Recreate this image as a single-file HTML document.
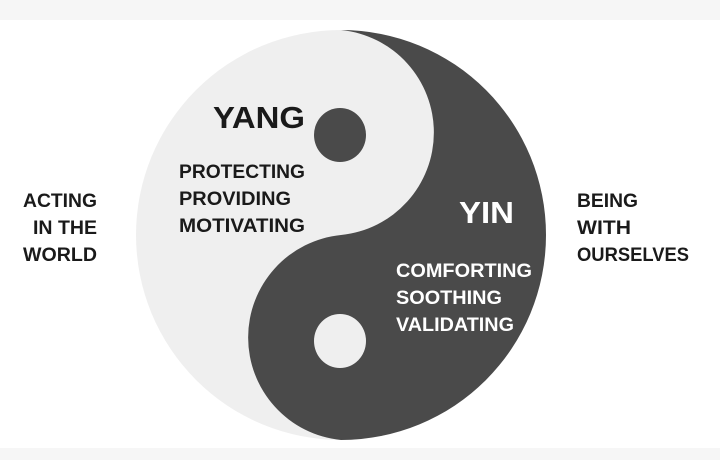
<!DOCTYPE html>
<html><head><meta charset="utf-8"><style>
html,body{margin:0;padding:0;background:#fff;}
svg{display:block;}
text{font-family:"Liberation Sans",sans-serif;}
</style></head><body>
<svg width="720" height="460" viewBox="0 0 720 460">
<rect x="0" y="0" width="720" height="460" fill="#fff"/>
<rect x="0" y="0" width="720" height="20" fill="#f6f6f6"/>
<rect x="0" y="448" width="720" height="12" fill="#f6f6f6"/>
<circle cx="341" cy="235" r="205" fill="#efefef"/>
<path d="M341 30 A205 205 0 0 1 341 440 A103 103 0 0 1 341 235 A103 103 0 0 0 341 30 Z" fill="#4a4a4a"/>
<ellipse cx="340" cy="135" rx="26" ry="27" fill="#4a4a4a"/>
<ellipse cx="340" cy="341" rx="26" ry="27" fill="#efefef"/>
<g font-weight="bold" fill="#1a1a1a">
<text x="213" y="128" font-size="31" textLength="92" lengthAdjust="spacingAndGlyphs">YANG</text>
<text x="179" y="178" font-size="19" textLength="126" lengthAdjust="spacingAndGlyphs">PROTECTING</text>
<text x="179" y="205" font-size="19" textLength="112" lengthAdjust="spacingAndGlyphs">PROVIDING</text>
<text x="179" y="232" font-size="19" textLength="126" lengthAdjust="spacingAndGlyphs">MOTIVATING</text>
<text x="23" y="207" font-size="19" textLength="74" lengthAdjust="spacingAndGlyphs">ACTING</text>
<text x="33" y="234" font-size="19" textLength="64" lengthAdjust="spacingAndGlyphs">IN THE</text>
<text x="23" y="261" font-size="19" textLength="74" lengthAdjust="spacingAndGlyphs">WORLD</text>
<text x="577" y="207" font-size="19" textLength="61" lengthAdjust="spacingAndGlyphs">BEING</text>
<text x="577" y="234" font-size="19" textLength="54" lengthAdjust="spacingAndGlyphs">WITH</text>
<text x="577" y="261" font-size="19" textLength="112" lengthAdjust="spacingAndGlyphs">OURSELVES</text>
</g>
<g fill="#fff" font-weight="bold">
<text x="459" y="223" font-size="31" textLength="55" lengthAdjust="spacingAndGlyphs">YIN</text>
<text x="396" y="277" font-size="19" textLength="136" lengthAdjust="spacingAndGlyphs">COMFORTING</text>
<text x="396" y="304" font-size="19" textLength="106" lengthAdjust="spacingAndGlyphs">SOOTHING</text>
<text x="396" y="331" font-size="19" textLength="118" lengthAdjust="spacingAndGlyphs">VALIDATING</text>
</g>
</svg>
</body></html>
